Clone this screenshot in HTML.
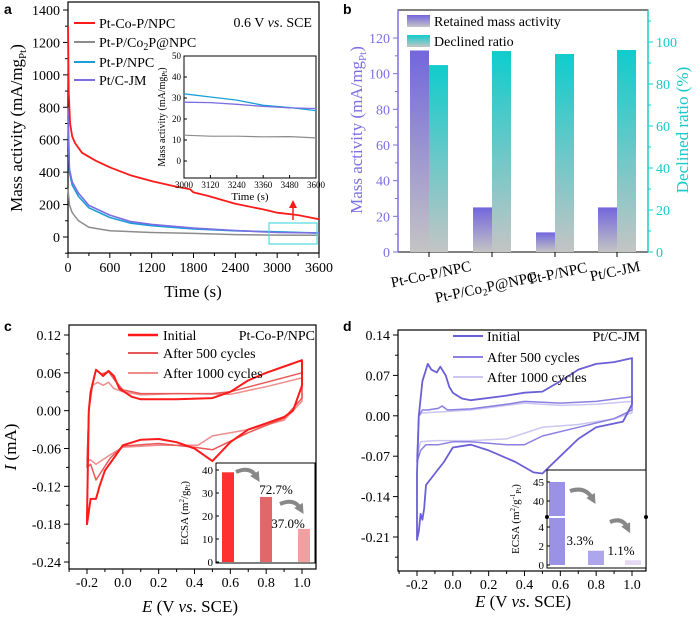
<!DOCTYPE html>
<html><head><meta charset="utf-8"><style>
html,body{margin:0;padding:0;background:#fff;}
svg{display:block;font-family:"Liberation Serif",serif;}
</style></head><body>
<svg id="fig" width="700" height="623" viewBox="0 0 700 623" xmlns="http://www.w3.org/2000/svg">
<defs>
<linearGradient id="gPurple" x1="0" y1="0" x2="0" y2="1"><stop offset="0" stop-color="#7366dc"/><stop offset="1" stop-color="#c4c4c4"/></linearGradient>
<linearGradient id="gCyan" x1="0" y1="0" x2="0" y2="1"><stop offset="0" stop-color="#10cccc"/><stop offset="1" stop-color="#c4c4c4"/></linearGradient>
<marker id="arrRed" markerUnits="userSpaceOnUse" markerWidth="8" markerHeight="8" refX="4" refY="4" orient="auto"><path d="M0,0 L8,4 L0,8 z" fill="#ff1a1a"/></marker>
<marker id="arrGray" markerUnits="userSpaceOnUse" markerWidth="10" markerHeight="10" refX="3" refY="5" orient="auto"><path d="M0,0 L10,5 L0,10 z" fill="#888"/></marker>
</defs>
</svg>
<script>
// ---------- DATA ----------
const aRedT=[0,10,30,60,100,200,400,600,900,1200,1500,1750,1800,2000,2400,2800,3000,3300,3600];
const aRedV=[1300,900,700,620,580,520,470,430,380,345,315,295,275,255,205,170,150,135,110];
const aGrayT=[0,20,60,150,300,600,1200,1800,2400,3000,3600];
const aGrayV=[300,200,150,100,60,38,28,22,15,12,11];
const aBlueT=[0,20,60,150,300,600,900,1200,1800,2400,3000,3600];
const aBlueV=[750,400,320,250,180,120,85,70,50,38,32,24];
const aPurpT=[0,20,60,150,300,600,900,1200,1800,2400,3000,3600];
const aPurpV=[800,420,340,270,195,135,95,78,55,40,28,25];
const insGrayV=[12.3,11.8,11.8,11.5,11.6,11];
const insBlueV=[32,30.5,29,26.5,25.5,24];
const insPurpV=[28,27.8,27,26,25.3,25];
const insT=[3000,3120,3240,3360,3480,3600];
const aXTicks=[0,600,1200,1800,2400,3000,3600];
const aYTicks=[0,200,400,600,800,1000,1200,1400];
const insXTicks=[3000,3120,3240,3360,3480,3600];
const insYTicks=[0,10,20,30,40,50];
const bCats=["Pt-Co-P/NPC","Pt-P/Co2P@NPC","Pt-P/NPC","Pt/C-JM"];
const bRetained=[113,25,11,25];
const bDeclined=[89,95.7,94.3,96.2];
const bLeftTicks=[0,20,40,60,80,100,120];
const bRightTicks=[0,20,40,60,80,100];
const cInitE=[-0.2,-0.19,-0.18,-0.15,-0.13,-0.11,-0.08,-0.05,-0.02,0.05,0.1,0.3,0.5,0.6,0.7,0.8,0.9,1.0,1.0,0.95,0.9,0.8,0.7,0.6,0.5,0.45,0.4,0.3,0.2,0.1,0.0,-0.05,-0.1,-0.13,-0.15,-0.16,-0.18,-0.2];
const cInitI=[-0.17,0.0,0.03,0.065,0.06,0.055,0.063,0.055,0.035,0.022,0.018,0.018,0.02,0.03,0.048,0.06,0.07,0.08,0.04,0.0,-0.01,-0.02,-0.03,-0.05,-0.08,-0.07,-0.06,-0.05,-0.045,-0.046,-0.055,-0.075,-0.095,-0.12,-0.14,-0.14,-0.14,-0.18];
const c500E=[-0.2,-0.19,-0.17,-0.15,-0.12,-0.08,-0.05,0.0,0.1,0.3,0.5,0.6,0.8,1.0,1.0,0.9,0.7,0.5,0.4,0.2,0.0,-0.07,-0.15,-0.18,-0.2];
const c500I=[-0.09,0.0,0.04,0.065,0.058,0.062,0.05,0.033,0.027,0.027,0.027,0.03,0.045,0.06,0.02,-0.012,-0.035,-0.062,-0.058,-0.052,-0.056,-0.075,-0.11,-0.085,-0.09];
const c1kE=[-0.2,-0.19,-0.17,-0.14,-0.11,-0.08,-0.05,0.0,0.1,0.3,0.6,0.8,1.0,1.0,0.9,0.7,0.5,0.42,0.2,0.0,-0.07,-0.15,-0.18,-0.2];
const c1kI=[-0.08,0.0,0.04,0.045,0.04,0.045,0.035,0.03,0.025,0.027,0.026,0.038,0.052,0.015,-0.015,-0.03,-0.04,-0.055,-0.055,-0.058,-0.07,-0.085,-0.078,-0.08];
const cXTicks=[-0.2,0.0,0.2,0.4,0.6,0.8,1.0];
const cYTicks=[-0.24,-0.18,-0.12,-0.06,0.00,0.06,0.12];
const cEcsa=[39,28.3,14.4];
const cEcsaTicks=[0,10,20,30,40];
const dInitE=[-0.2,-0.2,-0.19,-0.17,-0.14,-0.12,-0.09,-0.07,-0.04,-0.02,0.0,0.05,0.1,0.3,0.4,0.5,0.6,0.7,0.8,0.9,1.0,1.0,0.95,0.8,0.7,0.6,0.5,0.45,0.35,0.2,0.1,0.0,-0.05,-0.1,-0.15,-0.16,-0.17,-0.18,-0.19,-0.2];
const dInitI=[-0.2,-0.1,0.0,0.06,0.09,0.08,0.075,0.085,0.07,0.05,0.04,0.03,0.027,0.035,0.04,0.042,0.06,0.08,0.09,0.093,0.1,0.02,-0.01,-0.02,-0.04,-0.07,-0.1,-0.098,-0.08,-0.06,-0.05,-0.055,-0.08,-0.1,-0.12,-0.16,-0.18,-0.17,-0.2,-0.215];
const d500E=[-0.2,-0.19,-0.17,-0.14,-0.08,-0.06,-0.03,0.1,0.3,0.4,0.6,0.8,1.0,1.0,0.9,0.7,0.5,0.4,0.3,0.1,0.0,-0.08,-0.15,-0.18,-0.2];
const d500I=[-0.08,0.0,0.01,0.01,0.013,0.017,0.01,0.012,0.02,0.025,0.022,0.025,0.033,0.01,-0.005,-0.02,-0.035,-0.05,-0.05,-0.045,-0.045,-0.05,-0.05,-0.06,-0.08];
const d1kE=[-0.2,-0.19,-0.17,-0.1,0.1,0.3,0.4,0.6,0.8,1.0,1.0,0.9,0.7,0.5,0.4,0.3,0.1,-0.1,-0.18,-0.2];
const d1kI=[-0.07,0.0,0.005,0.006,0.01,0.018,0.022,0.018,0.02,0.025,0.005,-0.005,-0.015,-0.02,-0.03,-0.04,-0.043,-0.043,-0.045,-0.07];
const dXTicks=[-0.2,0.0,0.2,0.4,0.6,0.8,1.0];
const dYTicks=[-0.21,-0.14,-0.07,0.00,0.07,0.14];
const dEcsa=[45,1.5,0.5];
const dEcsaTicks=[0,2,4,40,45];

// ---------- HELPERS ----------
const svg=document.getElementById('fig');
const NS='http://www.w3.org/2000/svg';
function mk(tag,name,attrs){
  const el=document.createElementNS(NS,tag);
  
  
  for(const k in attrs) el.setAttribute(k,attrs[k]);
  svg.appendChild(el);
  return el;
}
function ln(name,x1,y1,x2,y2,c,w){return mk('line',name,{x1,y1,x2,y2,stroke:c||'#000','stroke-width':w||1});}
function tx(name,x,y,s,size,anchor,fill,extra){const t=mk('text',name,Object.assign({x,y,'font-size':size||14,'text-anchor':anchor||'middle',fill:fill||'#000'},extra||{}));t.innerHTML=s;return t;}
function rect(name,x,y,w,h,attrs){return mk('rect',name,Object.assign({x,y,width:w,height:h},attrs||{}));}
function poly(name,xs,ys,sx,sy,c,w,close){
  let d='';for(let i=0;i<xs.length;i++){d+=(i?'L':'M')+sx(xs[i]).toFixed(1)+','+sy(ys[i]).toFixed(1);}
  if(close)d+='Z';
  return mk('path',name,{d,fill:'none',stroke:c,'stroke-width':w,'stroke-linejoin':'round'});
}
function lin(d0,d1,r0,r1){return v=>r0+(v-d0)*(r1-r0)/(d1-d0);}

// ---------- PANEL A ----------
{
const sx=lin(0,3600,68,319), sy=lin(0,1400,237,10);
rect('panel-a-frame',68,2,251,251,{fill:'none',stroke:'#000','stroke-width':1.2});
aXTicks.forEach(v=>{ln('a-x-tick',sx(v),253,sx(v),258);tx('a-x-tick-label',sx(v),272,v,14);});
aXTicks.slice(0,-1).forEach(v=>ln('a-x-minor-tick',sx(v+300),253,sx(v+300),256));
aYTicks.forEach(v=>{ln('a-y-tick',63,sy(v),68,sy(v));tx('a-y-tick-label',60,sy(v)+5,v,14,'end');});
aYTicks.forEach(v=>ln('a-y-minor-tick',65,sy(v-100),68,sy(v-100)));
poly('a-series-pt-p-co2p',aGrayT,aGrayV,sx,sy,'#8c8c8c',1.5);
poly('a-series-pt-p-npc',aBlueT,aBlueV,sx,sy,'#1a9fd8',1.6);
poly('a-series-pt-c-jm',aPurpT,aPurpV,sx,sy,'#7a6ee0',1.6);
poly('a-series-pt-co-p-npc',aRedT,aRedV,sx,sy,'#ff1a1a',1.8);
rect('a-zoom-box',269,223,48,21,{fill:'none',stroke:'#4fd8e0','stroke-width':1.2});
ln('a-zoom-arrow',293,220,293,204,'#ff1a1a',1.5).setAttribute('marker-end','url(#arrRed)');
tx('a-x-axis-title',193,297,'Time (s)',17);
tx('a-y-axis-title',22,128,'Mass activity (mA/mg<tspan font-size="11" dy="4">Pt</tspan><tspan dy="-4">)</tspan>',17,'middle','#000',{transform:'rotate(-90 22 128)'});
tx('panel-label-a',4,14,'a',14,'start','#000',{'font-weight':'bold','font-family':'Liberation Sans, sans-serif'});
const leg=[['Pt-Co-P/NPC','#ff1a1a',23],['Pt-P/Co<tspan font-size="10" dy="3">2</tspan><tspan dy="-3">P@NPC</tspan>','#8c8c8c',42],['Pt-P/NPC','#1a9fd8',62],['Pt/C-JM','#7a6ee0',80]];
leg.forEach(l=>{ln('a-legend-line',74,l[2],95,l[2],l[1],2);tx('a-legend-entry',99,l[2]+5,l[0],14,'start');});
tx('a-condition-label',312,27,'0.6 V <tspan font-style="italic">vs</tspan>. SCE',14,'end');
const ix=lin(3000,3600,184,316), iy=lin(0,50,161,56);
rect('a-inset-frame',184,56,132,122,{fill:'#fff',stroke:'#000','stroke-width':1});
insXTicks.forEach(v=>{ln('a-inset-x-tick',ix(v),178,ix(v),175);tx('a-inset-x-tick-label',ix(v),188,v,9);});
insYTicks.forEach(v=>{ln('a-inset-y-tick',184,iy(v),187,iy(v));tx('a-inset-y-tick-label',181,iy(v)+3,v,9,'end');});
poly('a-inset-pt-p-co2p',insT,insGrayV,ix,iy,'#8c8c8c',1.2);
poly('a-inset-pt-p-npc',insT,insBlueV,ix,iy,'#1a9fd8',1.3);
poly('a-inset-pt-c-jm',insT,insPurpV,ix,iy,'#7a6ee0',1.3);
tx('a-inset-x-title',250,200,'Time (s)',11);
tx('a-inset-y-title',165,117,'Mass activity (mA/mg<tspan font-size="7" dy="2">Pt</tspan><tspan dy="-2">)</tspan>',10,'middle','#000',{transform:'rotate(-90 165 117)'});
}

// ---------- PANEL B ----------
{
const PC='#7b70e0', CC='#19c8c8';
const syL=lin(0,120,252,38), syR=lin(0,100,252,42);
const gx=[429,492,555,617];
rect('panel-b-frame',398,10,250,242,{fill:'none',stroke:'#000','stroke-width':1});
ln('b-left-axis',398,10,398,252,PC,1.5);
ln('b-right-axis',648,10,648,252,CC,1.5);
bRetained.forEach((v,i)=>rect('b-bar-retained',gx[i]-19,syL(v),19,252-syL(v),{fill:'url(#gPurple)'}));
bDeclined.forEach((v,i)=>rect('b-bar-declined',gx[i],syR(v),19,252-syR(v),{fill:'url(#gCyan)'}));
bLeftTicks.forEach(v=>{ln('b-left-tick',393,syL(v),398,syL(v),PC);tx('b-left-tick-label',390,syL(v)+5,v,14,'end',PC);});
bLeftTicks.slice(0,-1).forEach(v=>ln('b-left-minor-tick',395,syL(v+10),398,syL(v+10),PC));
bRightTicks.forEach(v=>{ln('b-right-tick',648,syR(v),653,syR(v),CC);tx('b-right-tick-label',656,syR(v)+5,v,14,'start',CC);});
bRightTicks.forEach(v=>ln('b-right-minor-tick',648,syR(v+10),651,syR(v+10),CC));
gx.forEach(x=>ln('b-x-tick',x,252,x,257));
const labs=['Pt-Co-P/NPC','Pt-P/Co<tspan font-size="10" dy="3">2</tspan><tspan dy="-3">P@NPC</tspan>','Pt-P/NPC','Pt/C-JM'];
const lcx=[432,487,559,616], lcy=[279,292,278,276];
labs.forEach((s,i)=>{tx('b-category-label',lcx[i],lcy[i],s,15,'middle','#000',{transform:'rotate(-12 '+lcx[i]+' '+lcy[i]+')'});});
tx('b-left-axis-title',362,130,'Mass activity (mA/mg<tspan font-size="11" dy="4">Pt</tspan><tspan dy="-4">)</tspan>',17,'middle',PC,{transform:'rotate(-90 362 130)'});
tx('b-right-axis-title',688,130,'Declined ratio (%)',17,'middle',CC,{transform:'rotate(-90 688 130)'});
tx('panel-label-b',343,14,'b',14,'start','#000',{'font-weight':'bold','font-family':'Liberation Sans, sans-serif'});
rect('b-legend-swatch-retained',407,15,23,12,{fill:'url(#gPurple)'});
rect('b-legend-swatch-declined',407,35,23,12,{fill:'url(#gCyan)'});
tx('b-legend-retained',434,26,'Retained mass activity',14,'start');
tx('b-legend-declined',434,46,'Declined ratio',14,'start');
}

// ---------- PANEL C ----------
{
const sx=lin(-0.2,1.0,87,302);
const sy2=lin(-0.24,0.12,562,335);
rect('panel-c-frame',69,325,247,244,{fill:'none',stroke:'#000','stroke-width':1.2});
cXTicks.forEach(v=>{ln('c-x-tick',sx(v),569,sx(v),574);tx('c-x-tick-label',sx(v),587,v.toFixed(1),14);});
cXTicks.forEach(v=>ln('c-x-minor-tick',sx(v-0.1),569,sx(v-0.1),572));
cYTicks.forEach(v=>{ln('c-y-tick',64,sy2(v),69,sy2(v));tx('c-y-tick-label',61,sy2(v)+5,v.toFixed(2),14,'end');});
cYTicks.slice(0,-1).forEach(v=>ln('c-y-minor-tick',66,sy2(v+0.03),69,sy2(v+0.03)));
poly('c-cv-1000-cycles',c1kE,c1kI,sx,sy2,'#f08c8c',1.5,true);
poly('c-cv-500-cycles',c500E,c500I,sx,sy2,'#e85858',1.5,true);
poly('c-cv-initial',cInitE,cInitI,sx,sy2,'#ff1a1a',2,true);
const lg=[['Initial','#ff1a1a',335,2.5],['After 500 cycles','#e85858',353,2],['After 1000 cycles','#f08c8c',373,2]];
lg.forEach(l=>{ln('c-legend-line',128,l[2],158,l[2],l[1],l[3]);tx('c-legend-entry',163,l[2]+5,l[0],14,'start');});
tx('c-sample-label',315,340,'Pt-Co-P/NPC',14,'end');
tx('c-x-axis-title',190,612,'<tspan font-style="italic">E</tspan> (V <tspan font-style="italic">vs</tspan>. SCE)',17);
tx('c-y-axis-title',16,447,'<tspan font-style="italic">I</tspan> (mA)',17,'middle','#000',{transform:'rotate(-90 16 447)'});
tx('panel-label-c',4,331,'c',14,'start','#000',{'font-weight':'bold','font-family':'Liberation Sans, sans-serif'});
const iy=lin(0,40,562,470), bx=[228,266,304], bc=['#ff3030','#e06868','#f0a0a0'];
rect('c-inset-frame',216,463,99,100,{fill:'#fff',stroke:'#000','stroke-width':1});
cEcsa.forEach((v,i)=>rect('c-ecsa-bar',bx[i]-6,iy(v),12,562-iy(v),{fill:bc[i]}));
cEcsaTicks.forEach(v=>{ln('c-inset-y-tick',216,iy(v),219,iy(v));tx('c-inset-y-tick-label',213,iy(v)+4,v,11,'end');});
tx('c-inset-y-title',188,513,'ECSA (m<tspan font-size="7" dy="-4">2</tspan><tspan dy="4">/g</tspan><tspan font-size="7" dy="2">Pt</tspan><tspan dy="-2">)</tspan>',11,'middle','#000',{transform:'rotate(-90 188 513)'});
tx('c-retention-72',276,494,'72.7%',13);
tx('c-retention-37',288,528,'37.0%',13);
mk('path','c-decline-arrow-1',{d:'M236,472 Q250,466 256,476',fill:'none',stroke:'#888','stroke-width':4,'marker-end':'url(#arrGray)'});
mk('path','c-decline-arrow-2',{d:'M280,504 Q294,498 300,508',fill:'none',stroke:'#888','stroke-width':4,'marker-end':'url(#arrGray)'});
}

// ---------- PANEL D ----------
{
const sx=lin(-0.2,1.0,417,632), sy=lin(-0.21,0.14,537,335);
rect('panel-d-frame',398,330,248,241,{fill:'none',stroke:'#000','stroke-width':1.2});
dXTicks.forEach(v=>{ln('d-x-tick',sx(v),571,sx(v),576);tx('d-x-tick-label',sx(v),589,v.toFixed(1),14);});
dXTicks.forEach(v=>ln('d-x-minor-tick',sx(v-0.1),571,sx(v-0.1),574));
dYTicks.forEach(v=>{ln('d-y-tick',393,sy(v),398,sy(v));tx('d-y-tick-label',390,sy(v)+5,v.toFixed(2),14,'end');});
dYTicks.forEach(v=>ln('d-y-minor-tick',395,sy(v-0.035),398,sy(v-0.035)));
poly('d-cv-1000-cycles',d1kE,d1kI,sx,sy,'#cbc6f2',1.5,true);
poly('d-cv-500-cycles',d500E,d500I,sx,sy,'#8b80e2',1.5,true);
poly('d-cv-initial',dInitE,dInitI,sx,sy,'#6a5fd6',1.8,true);
const lg=[['Initial','#6a5fd6',336],['After 500 cycles','#8b80e2',357],['After 1000 cycles','#cbc6f2',377]];
lg.forEach(l=>{ln('d-legend-line',453,l[2],483,l[2],l[1],2);tx('d-legend-entry',487,l[2]+5,l[0],14,'start');});
tx('d-sample-label',640,341,'Pt/C-JM',14,'end');
tx('d-x-axis-title',523,607,'<tspan font-style="italic">E</tspan> (V <tspan font-style="italic">vs</tspan>. SCE)',17);
tx('panel-label-d',343,331,'d',14,'start','#000',{'font-weight':'bold','font-family':'Liberation Sans, sans-serif'});
const iy=v=>v<=5?565-v*9.5:501-(v-40)*3.8;
const bx=[557,596,633], bc=['#9b92e6','#aea6ec','#e6d8f2'];
rect('d-inset-frame',547,470,99,98,{fill:'#fff',stroke:'#000','stroke-width':1});
dEcsa.forEach((v,i)=>rect('d-ecsa-bar',bx[i]-8,iy(v),16,565-iy(v),{fill:bc[i]}));
ln('d-axis-break',549,517,565,517,'#fff',2);
mk('circle','d-break-mark-left',{cx:547,cy:517,r:2,fill:'#000'});
mk('circle','d-break-mark-right',{cx:646,cy:517,r:2,fill:'#000'});
dEcsaTicks.forEach(v=>{ln('d-inset-y-tick',547,iy(v),550,iy(v));tx('d-inset-y-tick-label',544,iy(v)+4,v,11,'end');});
tx('d-inset-y-title',519,519,'ECSA (m<tspan font-size="7" dy="-4">2</tspan><tspan dy="4">/g</tspan><tspan font-size="7" dy="-4">-1</tspan><tspan font-size="7" dy="6">Pt</tspan><tspan dy="-2">)</tspan>',11,'middle','#000',{transform:'rotate(-90 519 519)'});
tx('d-retention-3-3',580,545,'3.3%',13);
tx('d-retention-1-1',621,555,'1.1%',13);
mk('path','d-decline-arrow-1',{d:'M570,491 Q585,486 592,498',fill:'none',stroke:'#888','stroke-width':4,'marker-end':'url(#arrGray)'});
mk('path','d-decline-arrow-2',{d:'M610,522 Q622,517 627,527',fill:'none',stroke:'#888','stroke-width':4,'marker-end':'url(#arrGray)'});
}
</script>
</body></html>
